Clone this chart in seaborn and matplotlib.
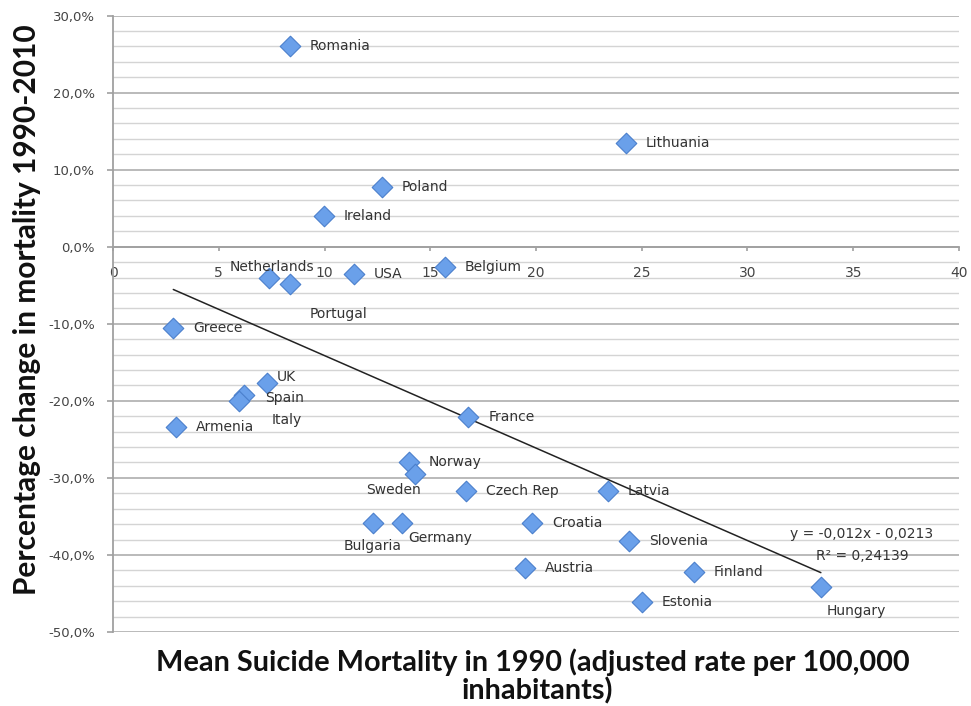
import numpy as np
import pandas as pd
import matplotlib
matplotlib.use("Agg")
import matplotlib.pyplot as plt
import seaborn as sns
from matplotlib.ticker import FuncFormatter, MultipleLocator

countries = ["Romania", "Poland", "Ireland", "Netherlands", "Portugal", "USA", "Belgium",
             "Greece", "Lithuania", "UK", "Spain", "Italy", "Armenia", "France", "Norway",
             "Sweden", "Czech Rep", "Bulgaria", "Germany", "Latvia", "Croatia", "Slovenia",
             "Austria", "Finland", "Estonia", "Hungary"]
mortality_1990 = [8.37, 12.7, 9.98, 7.39, 8.37, 11.4, 15.7,
                  2.85, 24.26, 7.3, 6.21, 5.97, 2.98, 16.8, 14.0,
                  14.3, 16.7, 12.28, 13.65, 23.4, 19.8, 24.4,
                  19.48, 27.47, 25.0, 33.47]
pct_change = [0.260, 0.078, 0.040, -0.041, -0.048, -0.036, -0.026,
              -0.105, 0.135, -0.177, -0.192, -0.200, -0.234, -0.221, -0.279,
              -0.295, -0.317, -0.358, -0.358, -0.317, -0.359, -0.382,
              -0.417, -0.422, -0.461, -0.441]
# label offsets (pixels) and alignment per country
label_dx = {"Netherlands": 3, "Portugal": 20, "UK": 9, "Spain": 21, "Italy": 32,
            "Sweden": -22, "Bulgaria": 0, "Germany": 7, "Hungary": 6}
label_dy = {"Netherlands": 11, "Portugal": -30, "UK": 6, "Spain": -3, "Italy": -19,
            "Sweden": -16, "Bulgaria": -23, "Germany": -15, "Hungary": -24}
label_ha = {"Netherlands": "center", "Sweden": "center", "Bulgaria": "center"}

trend_slope = -0.012
trend_intercept = -0.0213
eq_text = ["y = -0,012x - 0,0213", "R² = 0,24139"]

x_ticks = [0, 5, 10, 15, 20, 25, 30, 35, 40]
y_ticks = [-0.5, -0.4, -0.3, -0.2, -0.1, 0.0, 0.1, 0.2, 0.3]

df = pd.DataFrame({"country": countries, "x": mortality_1990, "y": pct_change})

sns.set_theme(style="white")
plt.rcParams["font.family"] = ["DejaVu Sans"]

fig = plt.figure(figsize=(9.71, 7.06), dpi=100)
ax = fig.add_axes([0.1164, 0.1048, 0.8712, 0.8732])

ax.set_xlim(0, 40)
ax.set_ylim(-0.5, 0.3)

# gridlines
ax.yaxis.set_major_locator(MultipleLocator(0.1))
ax.yaxis.set_minor_locator(MultipleLocator(0.02))
ax.xaxis.set_major_locator(MultipleLocator(5))
ax.grid(which="major", axis="y", color="#b4b4b4", linewidth=1.3, zorder=0)
ax.grid(which="minor", axis="y", color="#d4d4d4", linewidth=1.0, zorder=0)
ax.grid(which="major", axis="x", visible=False)
ax.set_axisbelow(True)

# trend line
tx = np.array([min(mortality_1990), max(mortality_1990)])
trend_df = pd.DataFrame({"x": tx, "y": trend_slope * tx + trend_intercept})
sns.lineplot(data=trend_df, x="x", y="y", ax=ax, color="#222222", linewidth=1.1, zorder=3)

sns.scatterplot(data=df, x="x", y="y", ax=ax, marker="D", s=110,
                color="#6aa0ea", edgecolor="#4a7fcc", linewidth=0.8, zorder=4)

for c, xv, yv in zip(countries, mortality_1990, pct_change):
    dx = label_dx.get(c, 20)
    dy = label_dy.get(c, 0)
    ha = label_ha.get(c, "left")
    ax.annotate(c, (xv, yv), xytext=(dx * 0.72, dy * 0.72), textcoords="offset points",
                ha=ha, va="center", fontsize=10, color="#333333", zorder=5)

ax.text(861.7 / 971, 1 - 534 / 706, eq_text[0], transform=fig.transFigure,
        ha="center", va="center", fontsize=10, color="#333333")
ax.text(862.7 / 971, 1 - 556 / 706, eq_text[1], transform=fig.transFigure,
        ha="center", va="center", fontsize=10, color="#333333")

# spines
for s in ["top", "right"]:
    ax.spines[s].set_visible(False)
ax.spines["left"].set_color("#a0a0a0")
ax.spines["left"].set_linewidth(1.3)
ax.spines["bottom"].set_position(("data", 0))
ax.spines["bottom"].set_color("#a0a0a0")
ax.spines["bottom"].set_linewidth(1.3)

ax.set_xticks(x_ticks)
ax.set_yticks(y_ticks)
ax.yaxis.set_major_formatter(FuncFormatter(lambda v, p: f"{v*100:.1f}%".replace(".", ",")))
ax.tick_params(axis="y", which="major", left=True, length=4, width=1.2, color="#a0a0a0",
               pad=9, labelsize=9.5, labelcolor="#444444")
ax.tick_params(axis="y", which="minor", left=False)
ax.tick_params(axis="x", bottom=True, length=3, width=1.2, color="#a0a0a0", pad=11,
               labelsize=10, labelcolor="#444444")

ax.set_xlabel("")
ax.set_ylabel("")
title_font = ["Lato", "DejaVu Sans"]
fig.text(27 / 971, 1 - 310 / 706, "Percentage change in mortality 1990-2010", rotation=90,
         ha="center", va="center", fontsize=21.5, fontweight="bold", family=title_font,
         color="#111111")
fig.text(533 / 971, 1 - 662 / 706, "Mean Suicide Mortality in 1990 (adjusted rate per 100,000",
         ha="center", va="center", fontsize=20.8, fontweight="bold", family=title_font,
         color="#111111")
fig.text(537 / 971, 1 - 691 / 706, "inhabitants)",
         ha="center", va="center", fontsize=20.8, fontweight="bold", family=title_font,
         color="#111111")

fig.savefig("out.png", dpi=100)
